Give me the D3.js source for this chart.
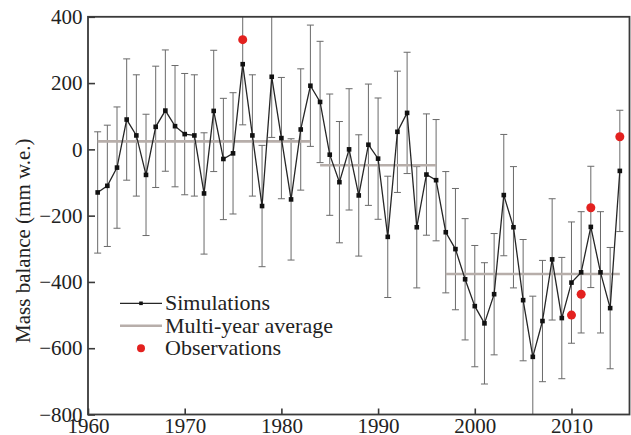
<!DOCTYPE html>
<html>
<head>
<meta charset="utf-8">
<script src="https://cdn.jsdelivr.net/npm/d3@7"></script>
<style>
  html, body { margin: 0; padding: 0; background: #fff; }
  svg { display: block; }
  text { font-family: "Liberation Serif", "Times New Roman", serif; fill: #222; }
</style>
</head>
<body>
<svg id="chart" width="631" height="435"></svg>
<script>
// Annual glacier mass balance (mm w.e.), 1961-2015
const years = d3.range(1961, 2016);
const simulated = [
  -130, -110, -55, 90, 42, -77, 68, 117, 70, 46,
  42, -133, 116, -29, -12, 257, 42, -171, 219, 34,
  -151, 60, 192, 143, -16, -99, 0, -139, 14, -28,
  -264, 53, 110, -235, -76, -93, -250, -301, -392, -473,
  -525, -437, -138, -235, -455, -626, -518, -332, -509, -402,
  -371, -234, -371, -479, -65
];
const simUncertainty = 183;   // +/- range of each simulated year

const obsYears = [1976, 2010, 2011, 2012, 2015];
const observed = [331, -500, -437, -176, 38];

const periodStart = [1961, 1984, 1997];
const periodEnd = [1983, 1996, 2015];
const periodMean = [24, -48, -376];

const xTicks = [1960, 1970, 1980, 1990, 2000, 2010];
const yTicks = [-800, -600, -400, -200, 0, 200, 400];
const legendLabels = ["Simulations", "Multi-year average", "Observations"];

const sims = years.map((yr, i) => ({ year: yr, value: simulated[i] }));
const obs = obsYears.map((yr, i) => ({ year: yr, value: observed[i] }));
const periods = periodStart.map((s, i) => ({ start: s, end: periodEnd[i], mean: periodMean[i] }));

const svg = d3.select("#chart");
const plotL = 88, plotR = 629.5, plotT = 16.8, plotB = 414.5;

const x = d3.scaleLinear().domain([1960, 2016]).range([plotL, plotR]);
const y = d3.scaleLinear().domain([-800, 400]).range([plotB, plotT]);

const FONT = 21;
const AXIS_COLOR = "#3a3a3a";
const BAR_COLOR = "#6a6a6a";
const AVG_COLOR = "#b7aeaa";
const LINE_COLOR = "#262626";
const OBS_COLOR = "#e3211f";

svg.append("defs").append("clipPath").attr("id", "plot-clip")
  .append("rect")
  .attr("x", plotL).attr("y", plotT)
  .attr("width", plotR - plotL).attr("height", plotB - plotT);

const plot = svg.append("g").attr("clip-path", "url(#plot-clip)");

// uncertainty whiskers
const bars = plot.append("g")
  .attr("stroke", BAR_COLOR).attr("stroke-width", 1).attr("fill", "none");
const capHalf = 3.5;
sims.forEach(d => {
  const cx = x(d.year);
  const y0 = y(d.value - simUncertainty), y1 = y(d.value + simUncertainty);
  bars.append("line").attr("x1", cx).attr("x2", cx).attr("y1", y0).attr("y2", y1);
  bars.append("line").attr("x1", cx - capHalf).attr("x2", cx + capHalf).attr("y1", y0).attr("y2", y0);
  bars.append("line").attr("x1", cx - capHalf).attr("x2", cx + capHalf).attr("y1", y1).attr("y2", y1);
});

// period means
plot.append("g").selectAll("line").data(periods).join("line")
  .attr("x1", d => x(d.start)).attr("x2", d => x(d.end))
  .attr("y1", d => y(d.mean)).attr("y2", d => y(d.mean))
  .attr("stroke", AVG_COLOR).attr("stroke-width", 2.6);

// simulated series
plot.append("path").datum(sims)
  .attr("fill", "none").attr("stroke", LINE_COLOR).attr("stroke-width", 1.3)
  .attr("d", d3.line().x(d => x(d.year)).y(d => y(d.value)));

const sq = 4.6;
plot.append("g").selectAll("rect").data(sims).join("rect")
  .attr("x", d => x(d.year) - sq / 2).attr("y", d => y(d.value) - sq / 2)
  .attr("width", sq).attr("height", sq).attr("fill", "#111");

// observations
plot.append("g").selectAll("circle").data(obs).join("circle")
  .attr("cx", d => x(d.year)).attr("cy", d => y(d.value))
  .attr("r", 4.5).attr("fill", OBS_COLOR);

// axes (ticks point inward)
const yAxis = svg.append("g").attr("transform", `translate(${plotL},0)`)
  .call(d3.axisLeft(y).tickValues(yTicks).tickSizeInner(-7).tickSizeOuter(0).tickPadding(5.5));
const xAxis = svg.append("g").attr("transform", `translate(0,${plotB})`)
  .call(d3.axisBottom(x).tickValues(xTicks).tickFormat(d3.format("d")).tickSizeInner(-6).tickSizeOuter(0).tickPadding(3.5));

[xAxis, yAxis].forEach(g => {
  g.select(".domain").remove();
  g.selectAll(".tick line").attr("stroke", AXIS_COLOR).attr("stroke-width", 1.6);
  g.selectAll(".tick text").attr("font-size", FONT)
    .attr("font-family", "'Liberation Serif', 'Times New Roman', serif").attr("fill", "#222");
});

// plot frame
svg.append("rect")
  .attr("x", plotL).attr("y", plotT)
  .attr("width", plotR - plotL).attr("height", plotB - plotT)
  .attr("fill", "none").attr("stroke", AXIS_COLOR).attr("stroke-width", 1.8);

// y-axis title
svg.append("text")
  .attr("transform", `translate(30,${(plotT + plotB) / 2 + 25}) rotate(-90)`)
  .attr("text-anchor", "middle")
  .attr("font-size", FONT)
  .text("Mass balance (mm w.e.)");

// legend
const legend = svg.append("g");
const lx0 = 120, lx1 = 162, lmid = 141, textX = 165;
const rowY = [303.3, 325.7, 348.3];

legend.append("line").attr("x1", lx0).attr("x2", lx1).attr("y1", rowY[0]).attr("y2", rowY[0])
  .attr("stroke", LINE_COLOR).attr("stroke-width", 1.3);
legend.append("rect").attr("x", lmid - 1.8).attr("y", rowY[0] - 1.8)
  .attr("width", 3.6).attr("height", 3.6).attr("fill", "#111");
legend.append("line").attr("x1", lx0).attr("x2", lx1).attr("y1", rowY[1]).attr("y2", rowY[1])
  .attr("stroke", AVG_COLOR).attr("stroke-width", 2.6);
legend.append("circle").attr("cx", lmid).attr("cy", rowY[2]).attr("r", 4).attr("fill", OBS_COLOR);

legend.selectAll("text.lab").data(legendLabels).join("text")
  .attr("class", "lab")
  .attr("x", textX).attr("y", (d, i) => rowY[i] + 7)
  .attr("font-size", FONT + 1)
  .text(d => d);
</script>
</body>
</html>
